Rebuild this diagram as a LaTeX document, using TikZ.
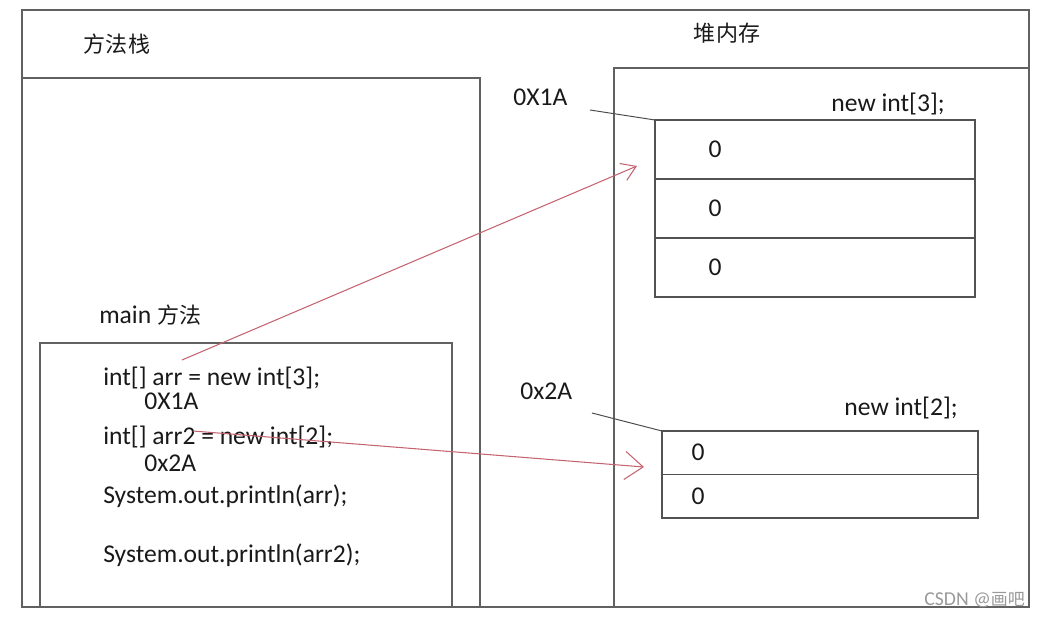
\documentclass[tikz,border=0pt]{standalone}
\usepackage{fontspec}
\setmainfont{Carlito}
\newfontfamily\cjk[Scale=0.86]{Noto Sans CJK SC}
\usetikzlibrary{positioning,arrows.meta}
\definecolor{refred}{RGB}{196,100,112}

\begin{document}
\begin{tikzpicture}[x=0.025cm, y=-0.025cm, font=\fontsize{18.2}{20}\selectfont,
    frame/.style={draw=black!62, line width=0.85pt},
    cell/.style={draw=black!68, line width=0.85pt, minimum width=8cm, outer sep=0pt, inner sep=0pt},
    txt/.style={inner sep=0pt, text=black!90},
    ptr/.style={draw=refred, line width=0.75pt, -{Straight Barb[length=10pt, width=13pt, line width=0.75pt]}}]
      \useasboundingbox (0,0) rectangle (1039,619);
      % frames
      \draw[frame] (22,607) -- (22,10) -- (1029,10) -- (1029,607) -- cycle;
      \draw[frame] (22,78) -- (480,78) -- (480,607);
      \draw[frame] (614,607) -- (614,68) -- (1029,68);
      \draw[frame] (40,607) -- (40,343) -- (452,343) -- (452,607);
      \node[txt] (stack) at (117,44) {\cjk 方法栈};
      \node[txt] (heap)  at (727,33) {\cjk 堆内存};
      % heap arrays
      \node[cell, minimum height=1.475cm, anchor=north west] (A1) at (655,120) {};
      \node[cell, minimum height=1.475cm] (A2) [below=0pt of A1] {};
      \node[cell, minimum height=1.475cm] (A3) [below=0pt of A2] {};
      \foreach \c in {A1,A2,A3}
        \node[txt] at ([xshift=1.5cm]\c.west) {0};
      \node[txt, anchor=east] (n3) at (945,104) {new int[3];};
      \node[txt, anchor=west] (adr1) at (513,97) {0X1A};
      \coordinate (p1) at (590,110);
      \draw[black!70, line width=0.7pt] (p1) -- (A1.north west);

      \node[cell, minimum width=7.9cm, minimum height=1.0875cm, anchor=north west] (B1) at (662,431) {};
      \node[cell, minimum width=7.9cm, minimum height=1.0875cm] (B2) [below=0pt of B1] {};
      \foreach \c in {B1,B2}
        \node[txt] at ([xshift=0.9cm]\c.west) {0};
      \node[txt, anchor=east] (n2) at (958,408) {new int[2];};
      \node[txt, anchor=west] (adr2) at (520,391) {0x2A};
      \coordinate (p2) at (592,413);
      \draw[black!70, line width=0.7pt] (p2) -- (B1.north west);
      % main method
      \node[txt, anchor=west] (main) at (99,315) {main {\cjk 方法}};
      \node[txt, anchor=west] (L1) at (103,378) {int[] arr = new int[3];};
      \node[txt, anchor=west] (L1a) at (144,401) {0X1A};
      \node[txt, anchor=west] (L2) at (103,437) {int[] arr2 = new int[2];};
      \node[txt, anchor=west] (L2a) at (144,463) {0x2A};
      \node[txt, anchor=west] (L3) at (103,496) {System.out.println(arr);};
      \node[txt, anchor=west] (L4) at (103,555) {System.out.println(arr2);};
      % references
      \coordinate (s1) at (182,360);
      \coordinate (t1) at (637,166);
      \coordinate (s2) at (193,431);
      \coordinate (t2) at (644,467);
      \draw[ptr] (s1) -- (t1);
      \draw[ptr, -{Straight Barb[length=13pt, width=20pt, line width=0.75pt]}] (s2) -- (t2);
      \node[txt, anchor=east, text=black!40, font=\fontsize{14}{16}\selectfont] (mark) at (1025,600) {CSDN @{\cjk 画吧}};
\end{tikzpicture}
\end{document}
